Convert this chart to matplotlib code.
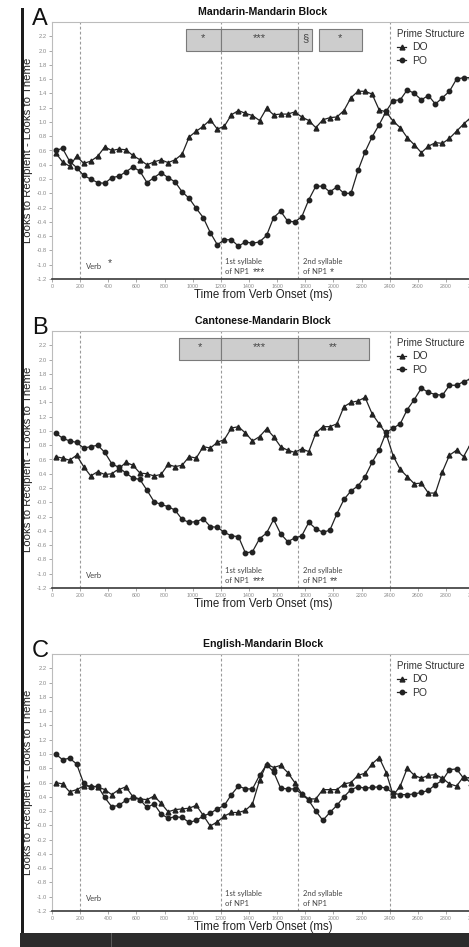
import matplotlib.pyplot as plt
import numpy as np
from matplotlib.patches import Rectangle

plt.rcParams["font.family"] = "Liberation Sans"

# 50 ms bins from verb onset, centre of each bin
times = np.arange(25, 3000, 50)

# Looks to recipient minus looks to theme, by prime structure
mm_do = [0.57, 0.44, 0.38, 0.52, 0.42, 0.45, 0.52, 0.65, 0.60, 0.62,
         0.61, 0.53, 0.47, 0.40, 0.44, 0.47, 0.43, 0.47, 0.55, 0.79,
         0.87, 0.94, 1.03, 0.90, 0.94, 1.10, 1.16, 1.12, 1.09, 1.02,
         1.19, 1.10, 1.11, 1.11, 1.14, 1.07, 1.02, 0.92, 1.03, 1.06,
         1.07, 1.16, 1.34, 1.43, 1.43, 1.39, 1.17, 1.14, 1.01, 0.92,
         0.78, 0.68, 0.57, 0.66, 0.71, 0.70, 0.77, 0.87, 0.97, 1.06]
mm_po = [0.60, 0.63, 0.45, 0.36, 0.25, 0.20, 0.15, 0.14, 0.22, 0.24,
         0.30, 0.37, 0.31, 0.15, 0.22, 0.29, 0.22, 0.16, 0.02, -0.07,
         -0.21, -0.34, -0.55, -0.72, -0.65, -0.65, -0.74, -0.68, -0.70, -0.68,
         -0.59, -0.34, -0.25, -0.39, -0.40, -0.33, -0.09, 0.10, 0.10, 0.02,
         0.09, 0.00, 0.00, 0.32, 0.58, 0.79, 0.96, 1.15, 1.30, 1.31,
         1.45, 1.40, 1.31, 1.37, 1.25, 1.34, 1.43, 1.60, 1.62, 1.62]

cm_do = [0.64, 0.62, 0.59, 0.66, 0.50, 0.37, 0.43, 0.39, 0.40, 0.47,
         0.56, 0.52, 0.41, 0.40, 0.37, 0.39, 0.53, 0.50, 0.52, 0.64,
         0.62, 0.78, 0.76, 0.84, 0.88, 1.04, 1.06, 0.97, 0.86, 0.92,
         1.03, 0.92, 0.78, 0.73, 0.70, 0.75, 0.71, 0.97, 1.06, 1.06,
         1.10, 1.34, 1.40, 1.42, 1.47, 1.24, 1.10, 0.96, 0.65, 0.46,
         0.36, 0.26, 0.27, 0.13, 0.13, 0.43, 0.66, 0.73, 0.64, 0.82]
cm_po = [0.97, 0.90, 0.86, 0.84, 0.76, 0.78, 0.80, 0.70, 0.54, 0.49,
         0.41, 0.34, 0.32, 0.17, 0.01, -0.03, -0.06, -0.11, -0.24, -0.28,
         -0.27, -0.23, -0.34, -0.35, -0.42, -0.47, -0.48, -0.71, -0.69, -0.51,
         -0.43, -0.24, -0.44, -0.55, -0.50, -0.47, -0.28, -0.37, -0.42, -0.39,
         -0.16, 0.04, 0.16, 0.23, 0.36, 0.56, 0.73, 0.98, 1.04, 1.10,
         1.30, 1.44, 1.60, 1.54, 1.51, 1.50, 1.64, 1.64, 1.69, 1.73]

em_do = [0.60, 0.58, 0.47, 0.50, 0.55, 0.55, 0.54, 0.50, 0.43, 0.50,
         0.54, 0.40, 0.37, 0.36, 0.41, 0.31, 0.19, 0.22, 0.23, 0.24,
         0.28, 0.14, -0.01, 0.05, 0.13, 0.18, 0.18, 0.21, 0.30, 0.63,
         0.86, 0.81, 0.84, 0.74, 0.60, 0.44, 0.37, 0.37, 0.50, 0.50,
         0.50, 0.58, 0.60, 0.70, 0.73, 0.86, 0.95, 0.74, 0.42, 0.55,
         0.80, 0.70, 0.66, 0.70, 0.71, 0.66, 0.58, 0.55, 0.68, 0.60]
em_po = [1.00, 0.92, 0.94, 0.86, 0.59, 0.53, 0.55, 0.39, 0.26, 0.28,
         0.35, 0.39, 0.36, 0.25, 0.30, 0.16, 0.10, 0.12, 0.11, 0.04,
         0.07, 0.13, 0.17, 0.23, 0.28, 0.43, 0.55, 0.51, 0.51, 0.70,
         0.85, 0.75, 0.52, 0.51, 0.51, 0.44, 0.35, 0.20, 0.07, 0.18,
         0.28, 0.40, 0.50, 0.54, 0.52, 0.53, 0.54, 0.52, 0.45, 0.43,
         0.43, 0.44, 0.46, 0.49, 0.57, 0.63, 0.78, 0.79, 0.66, 0.67]

# word boundaries (ms)
bounds = [200, 1200, 1750, 2400]

# significance windows: start, end, label
sig_a = [(950, 1200, "*"), (1200, 1750, "***"), (1750, 1850, "§"), (1900, 2200, "*")]
sig_b = [(900, 1200, "*"), (1200, 1750, "***"), (1750, 2250, "**")]
sig_c = []

panels = [
    ("A", "Mandarin-Mandarin Block", mm_do, mm_po, sig_a, ["*", "***", "*"], 22),
    ("B", "Cantonese-Mandarin Block", cm_do, cm_po, sig_b, ["", "***", "**"], 331),
    ("C", "English-Mandarin Block", em_do, em_po, sig_c, ["", "", ""], 654),
]

W, H = 469, 947
fig = plt.figure(figsize=(W / 100, H / 100), dpi=100)

ax_h = 257
ax_w = 3000 * 0.1407  # axis runs past the right edge
note_kw = dict(ha="left", va="center", fontsize=5.5, family="Lato", color="#444444")
star_kw = dict(ha="left", va="center", fontsize=7.5, color="#444444")

for letter, title, do, po, sig, stars, top in panels:
    ax = fig.add_axes([52 / W, 1 - (top + ax_h) / H, ax_w / W, ax_h / H])
    ax.set_xlim(0, 3000)
    ax.set_ylim(-1.2, 2.4)

    for b in bounds:
        ax.axvline(b, color="#9a9a9a", lw=0.8, ls=(0, (2.5, 2)), zorder=1)

    ax.plot(times, do, color="#222222", lw=0.9, marker="^", ms=3.5, label="DO", zorder=3)
    ax.plot(times, po, color="#222222", lw=0.9, marker="o", ms=3.2, label="PO", zorder=3)

    for x0, x1, lab in sig:
        ax.add_patch(Rectangle((x0, 2.0), x1 - x0, 0.3, facecolor="#cdcdcd",
                               edgecolor="#7a7a7a", lw=0.8, zorder=2))
        ax.text((x0 + x1) / 2, 2.17, lab, ha="center", va="center",
                fontsize=8, color="#444444", zorder=4)

    # labels for the word regions
    ax.text(240, -1.02, "Verb", **note_kw)
    if stars[0]:
        ax.text(395, -0.97, stars[0], **star_kw)
    ax.text(1232, -0.95, "1st syllable", **note_kw)
    ax.text(1232, -1.10, "of NP1", **note_kw)
    ax.text(1425, -1.11, stars[1], **star_kw)
    ax.text(1782, -0.95, "2nd syllable", **note_kw)
    ax.text(1782, -1.10, "of NP1", **note_kw)
    ax.text(1975, -1.11, stars[2], **star_kw)

    ax.set_xticks(np.arange(0, 3001, 200))
    ax.set_yticks(np.arange(-1.2, 2.21, 0.2))
    ax.set_yticklabels([f"{v:.1f}" for v in np.arange(-1.2, 2.21, 0.2)])
    ax.tick_params(axis="both", length=2, width=0.6, color="#9a9a9a",
                   labelcolor="#8a8a8a", pad=1.5)
    ax.tick_params(axis="x", labelsize=3.8)
    ax.tick_params(axis="y", labelsize=4.2)
    for side in ["top", "right", "left"]:
        ax.spines[side].set_color("#bcbcbc")
        ax.spines[side].set_linewidth(0.8)
    ax.spines["bottom"].set_color("#3a3a3a")
    ax.spines["bottom"].set_linewidth(1.2)

    ax.set_title(title, fontsize=7.6, fontweight="bold", pad=5, color="#111111")
    leg = ax.legend(title="Prime Structure", loc="upper left", frameon=False,
                    bbox_to_anchor=(2415, 2.37), bbox_transform=ax.transData,
                    fontsize=7.5, title_fontsize=7, handlelength=0.9,
                    handletextpad=0.6, labelspacing=0.3, borderpad=0.5,
                    borderaxespad=0, alignment="left")
    for t in leg.get_texts():
        t.set_color("#333333")
    leg.get_title().set_color("#333333")

    fig.text(32 / W, 1 - (top + 3) / H, letter, fontsize=17, ha="left",
             va="baseline", color="#111111")
    fig.text(263 / W, 1 - (top + 273) / H, "Time from Verb Onset (ms)",
             fontsize=8.3, ha="center", va="center", color="#222222")
    fig.text(28 / W, 1 - (top + 128) / H, "Looks to Recipient - Looks to Theme",
             fontsize=8.2, ha="center", va="center", rotation=90, color="#222222")

# dark strip along the left and bottom edges
fig.add_artist(Rectangle((20.5 / W, 14 / H), 3 / W, 1 - 22 / H,
                         transform=fig.transFigure, facecolor="#1c1c1c", lw=0))
fig.add_artist(Rectangle((20 / W, 0), 1, 14 / H, transform=fig.transFigure,
                         facecolor="#2c2c2c", lw=0))
fig.add_artist(Rectangle((111 / W, 0), 1 / W, 14 / H, transform=fig.transFigure,
                         facecolor="#5a5a5a", lw=0))

fig.savefig("out.png", dpi=100)
